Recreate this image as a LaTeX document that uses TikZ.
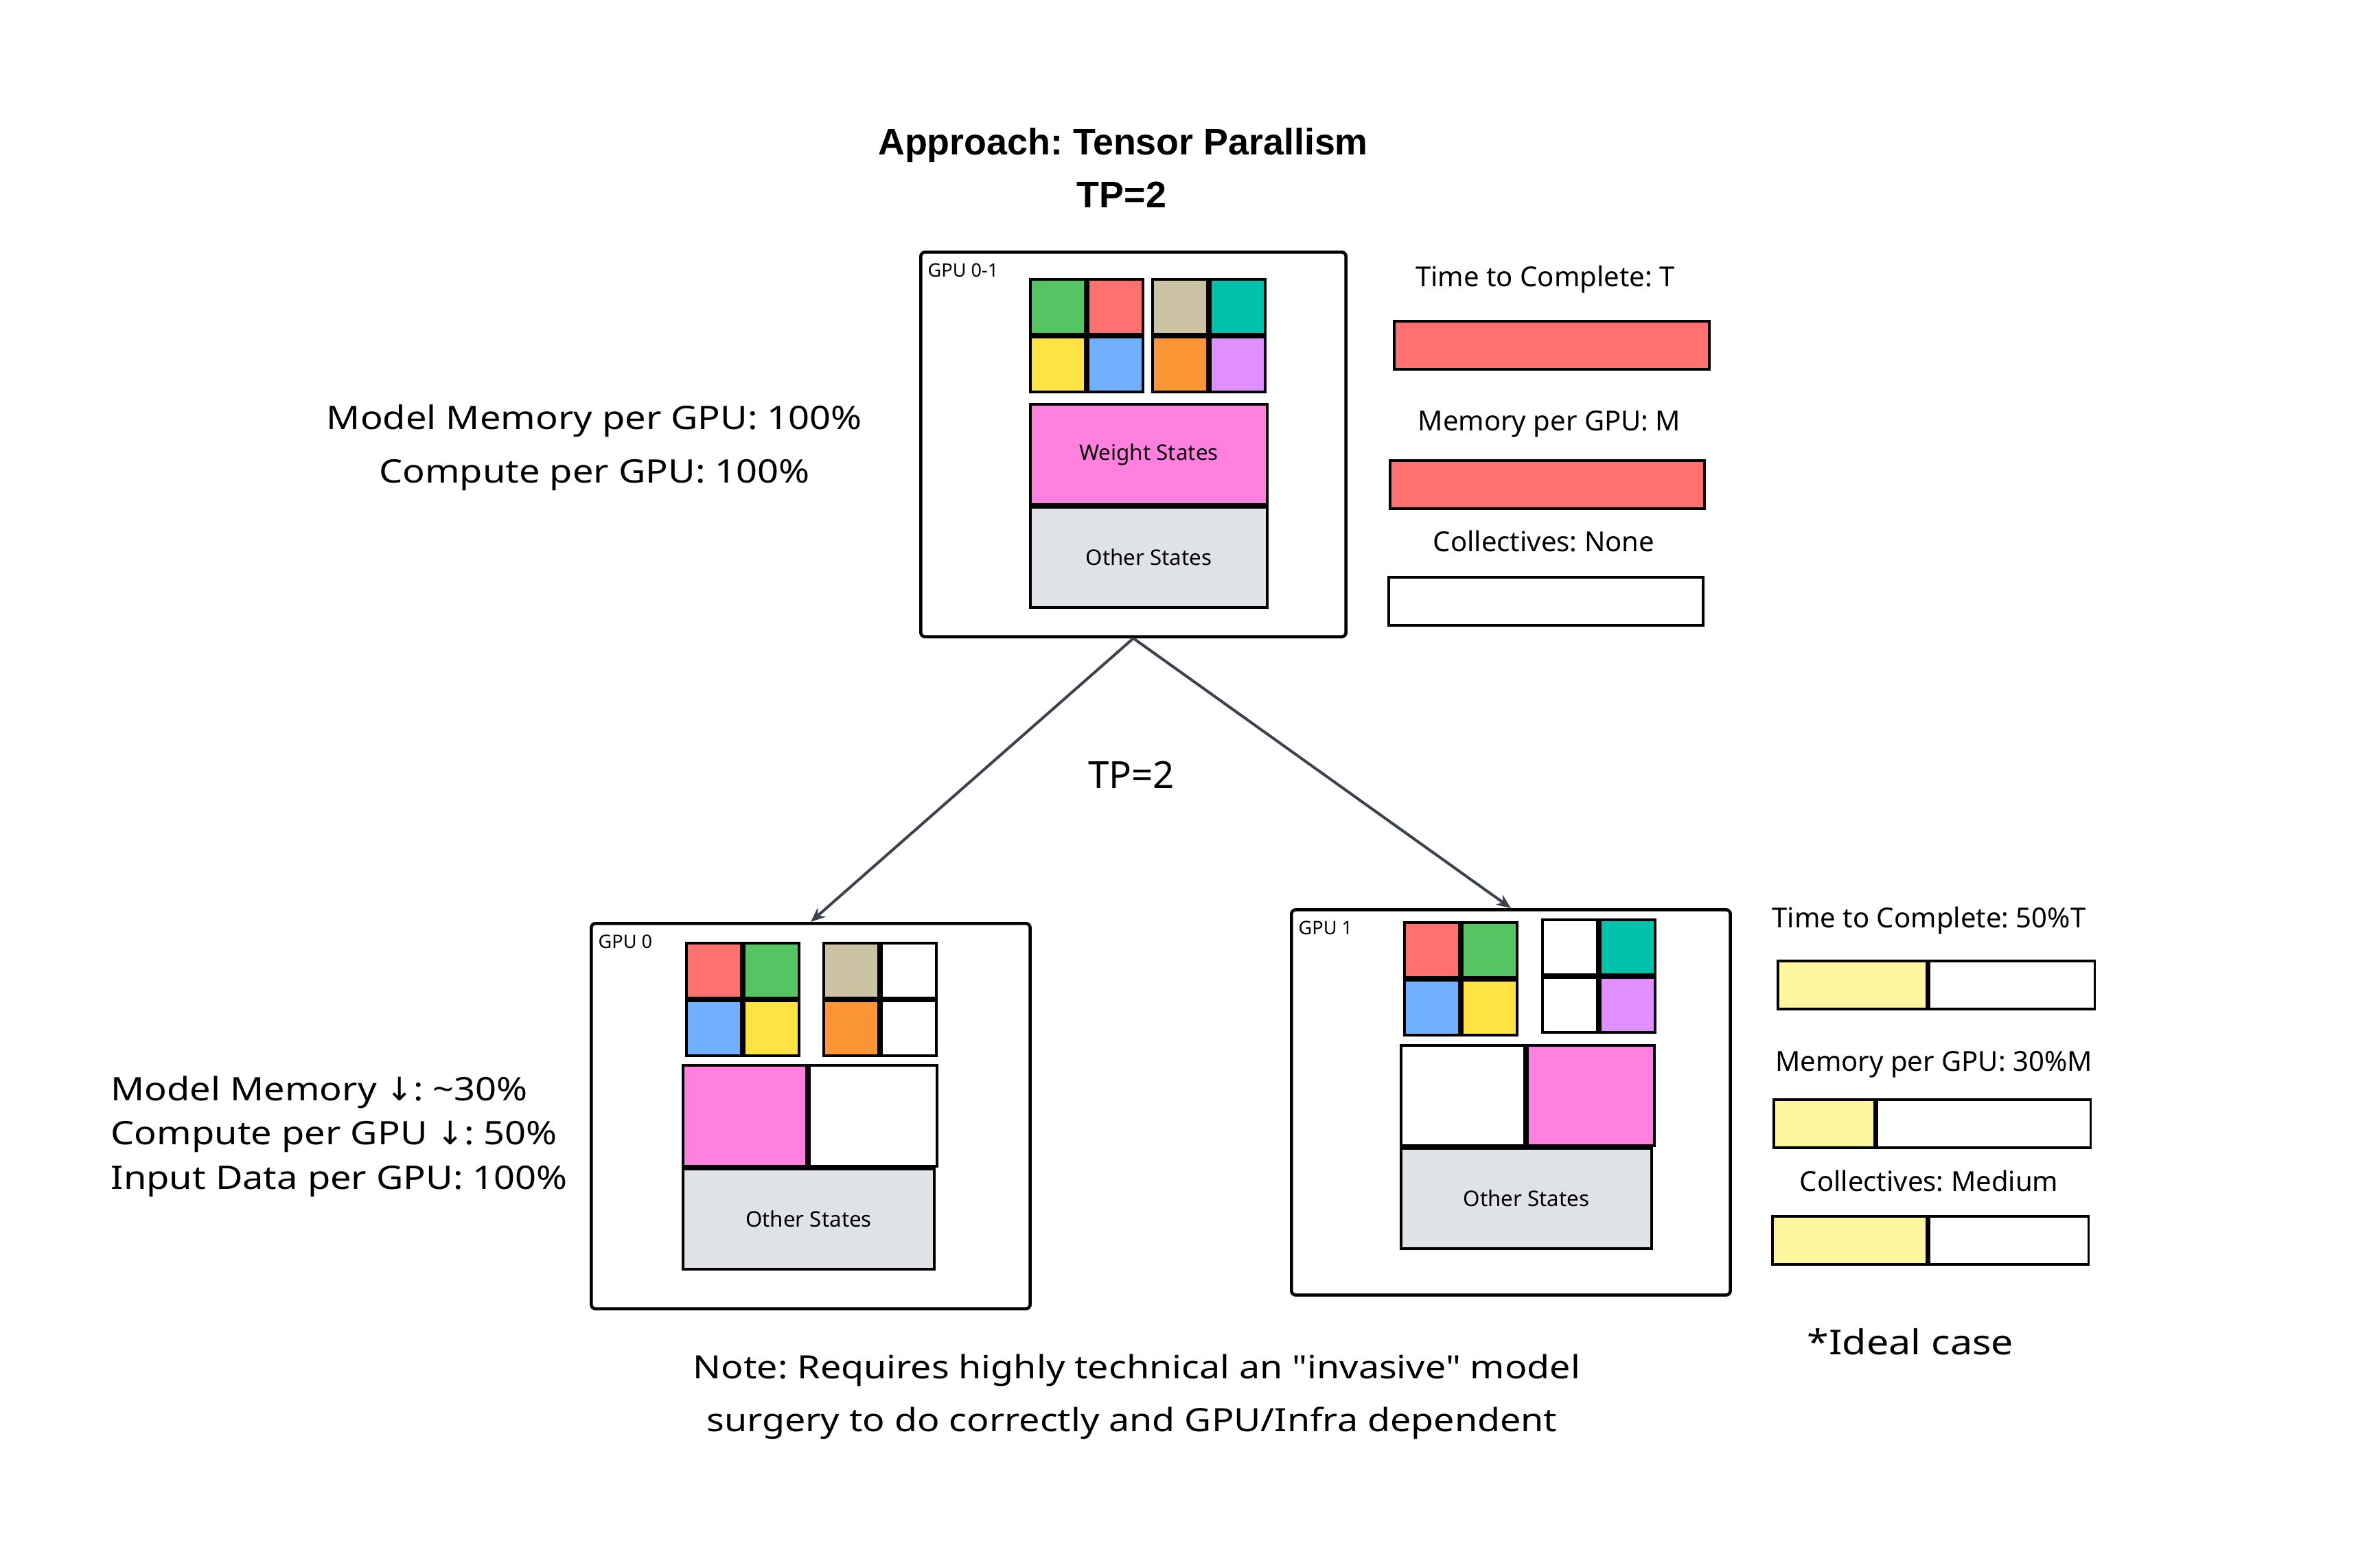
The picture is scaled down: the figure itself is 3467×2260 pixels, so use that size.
\documentclass[tikz,border=0pt]{standalone}
\usepackage{fontspec}
\setmainfont{Noto Sans}
\newfontfamily\widefont[FakeStretch=1.15]{Noto Sans}
\newfontfamily\headfont{Liberation Sans}
\newfontfamily\arrowfont{DejaVu Sans}
\usetikzlibrary{positioning,arrows.meta}
\frenchspacing

\definecolor{cgreen}{HTML}{55C462}
\definecolor{cred}{HTML}{FF7171}
\definecolor{cyellow}{HTML}{FFE244}
\definecolor{cblue}{HTML}{70B0FF}
\definecolor{cbeige}{HTML}{CBC3A4}
\definecolor{cteal}{HTML}{00C2AA}
\definecolor{corange}{HTML}{FC9535}
\definecolor{cviolet}{HTML}{DF8FFF}
\definecolor{cpink}{HTML}{FF80DF}
\definecolor{cgray}{HTML}{DFE2E6}
\definecolor{cpale}{HTML}{FFF6A0}
\definecolor{cedge}{HTML}{3D434C}

\tikzstyle{gpu box}=[draw,line width=1.3pt,rounded corners=1.8pt,anchor=north west,inner sep=0pt]
\tikzstyle{gpu tag}=[anchor=base west,inner sep=0pt,font=\fontsize{7.7}{9}\selectfont]
\tikzstyle{cell}=[draw,line width=1.1pt,anchor=north west,inner sep=0pt,minimum width=0.8cm,minimum height=0.8cm]
\tikzstyle{state}=[draw,line width=1.1pt,anchor=north west,inner sep=0pt,font=\fontsize{8.9}{10}\selectfont]
\tikzstyle{bar}=[draw,line width=1pt,anchor=north west,inner sep=0pt,minimum height=0.7cm]
\tikzstyle{bar label}=[anchor=base,inner sep=0pt,font=\fontsize{11.4}{13}\selectfont]
\tikzstyle{side text}=[inner sep=0pt,font=\widefont\fontsize{13.4}{15}\selectfont]
\tikzstyle{head text}=[anchor=base,inner sep=0pt,font=\headfont\bfseries\fontsize{15.3}{17}\selectfont]
\tikzstyle{split edge}=[-{Stealth[length=6pt,width=5pt]},line width=1.15pt,cedge]

% 2x2 block of coloured cells: name, x, y, four fills
\newcommand{\cellgrid}[7]{
  \node [cell, fill=#4] (#1a) at (#2,#3) {};
  \node [cell, fill=#5, right=0pt of #1a] (#1b) {};
  \node [cell, fill=#6, below=0pt of #1a] (#1c) {};
  \node [cell, fill=#7, below=0pt of #1b] (#1d) {};
}

\begin{document}
\begin{tikzpicture}[x=0.01cm,y=-0.01cm]
  \useasboundingbox (0,0) rectangle (3467,2260);

  \node[head text] (title) at (1636,225) {Approach: Tensor Parallism};
  \node[head text] (titletp) at (1634,302) {TP=2};

  % unsplit model on one GPU
  \node[gpu box, minimum width=6.19cm, minimum height=5.6cm] (gpu01) at (1339,365) {};
  \node[gpu tag] (tag01) at (1351,403) {GPU 0-1};
  \cellgrid{ga}{1499}{405}{cgreen}{cred}{cyellow}{cblue}
  \cellgrid{gb}{1677}{405}{cbeige}{cteal}{corange}{cviolet}
  \node[state, fill=cpink, minimum width=3.45cm, minimum height=1.46cm] (w01) at (1499,587) {Weight States};
  \node[state, fill=cgray, minimum width=3.45cm, minimum height=1.46cm, below=0pt of w01] (o01) {Other States};

  \node[side text, anchor=base] (mem01) at (866,625) {Model Memory per GPU: 100\%};
  \node[side text, anchor=base] (cmp01) at (866,703) {Compute per GPU: 100\%};

  \node[bar label] (lt01) at (2251,417) {Time to Complete: T};
  \node[bar, fill=cred, minimum width=4.59cm] (bt01) at (2029,466) {};
  \node[bar label] (lm01) at (2257,627) {Memory per GPU: M};
  \node[bar, fill=cred, minimum width=4.58cm] (bm01) at (2023,669) {};
  \node[bar label] (lc01) at (2249,803) {Collectives: None};
  \node[bar, fill=white, minimum width=4.58cm] (bc01) at (2021,839) {};

  % GPU 0
  \node[gpu box, minimum width=6.39cm, minimum height=5.61cm] (gpu0) at (859,1343) {};
  \node[gpu tag] (tag0) at (871,1381) {GPU 0};
  \cellgrid{gc}{998}{1372}{cred}{cgreen}{cblue}{cyellow}
  \cellgrid{gd}{1198}{1372}{cbeige}{white}{corange}{white}
  \node[state, fill=cpink, minimum width=1.8cm, minimum height=1.47cm] (w0a) at (993,1550) {};
  \node[state, fill=white, minimum width=1.86cm, minimum height=1.47cm, right=0pt of w0a] (w0b) {};
  \node[state, fill=cgray, minimum width=3.66cm, minimum height=1.46cm] (o0) at (w0a.south west) {Other States};

  % GPU 1
  \node[gpu box, minimum width=6.39cm, minimum height=5.61cm] (gpu1) at (1879,1323) {};
  \node[gpu tag] (tag1) at (1891,1361) {GPU 1};
  \cellgrid{ge}{2044}{1342}{cred}{cgreen}{cblue}{cyellow}
  \cellgrid{gf}{2245}{1338}{white}{cteal}{white}{cviolet}
  \node[state, fill=white, minimum width=1.8cm, minimum height=1.46cm] (w1a) at (2039,1521) {};
  \node[state, fill=cpink, minimum width=1.85cm, minimum height=1.46cm, right=0pt of w1a] (w1b) {};
  \node[state, fill=cgray, minimum width=3.65cm, minimum height=1.46cm] (o1) at (w1a.south west) {Other States};

  \draw[split edge] (gpu01.south) -- (gpu0.north);
  \draw[split edge] (gpu01.south) -- (gpu1.north);
  \node[side text, anchor=base, font=\fontsize{15.5}{17}\selectfont] (tpmid) at (1648,1148) {TP=2};

  \node[side text, anchor=base west] (mem2) at (161,1603) {Model Memory {\arrowfont↓}: \textasciitilde30\%};
  \node[side text, anchor=base west] (cmp2) at (161,1667) {Compute per GPU {\arrowfont↓}: 50\%};
  \node[side text, anchor=base west] (inp2) at (161,1732) {Input Data per GPU: 100\%};

  \node[bar label] (lt2) at (2810,1351) {Time to Complete: 50\%T};
  \node[bar, fill=cpale, minimum width=2.17cm] (bt2a) at (2588,1398) {};
  \node[bar, fill=white, minimum width=2.41cm, right=0pt of bt2a] (bt2b) {};
  \node[bar label] (lm2) at (2817,1560) {Memory per GPU: 30\%M};
  \node[bar, fill=cpale, minimum width=1.47cm] (bm2a) at (2582,1600) {};
  \node[bar, fill=white, minimum width=3.11cm, right=0pt of bm2a] (bm2b) {};
  \node[bar label] (lc2) at (2810,1735) {Collectives: Medium};
  \node[bar, fill=cpale, minimum width=2.25cm] (bc2a) at (2580,1770) {};
  \node[bar, fill=white, minimum width=2.32cm, right=0pt of bc2a] (bc2b) {};

  \node[side text, anchor=base, font=\widefont\fontsize{14.2}{17}\selectfont] (ideal) at (2783,1973) {*Ideal case};

  \node[side text, anchor=base, font=\widefont\fontsize{13.3}{15}\selectfont] (note1) at (1656,2008) {Note: Requires highly technical an "invasive" model};
  \node[side text, anchor=base, font=\widefont\fontsize{13.3}{15}\selectfont] (note2) at (1649,2085) {surgery to do correctly and GPU/Infra dependent};
\end{tikzpicture}
\end{document}
